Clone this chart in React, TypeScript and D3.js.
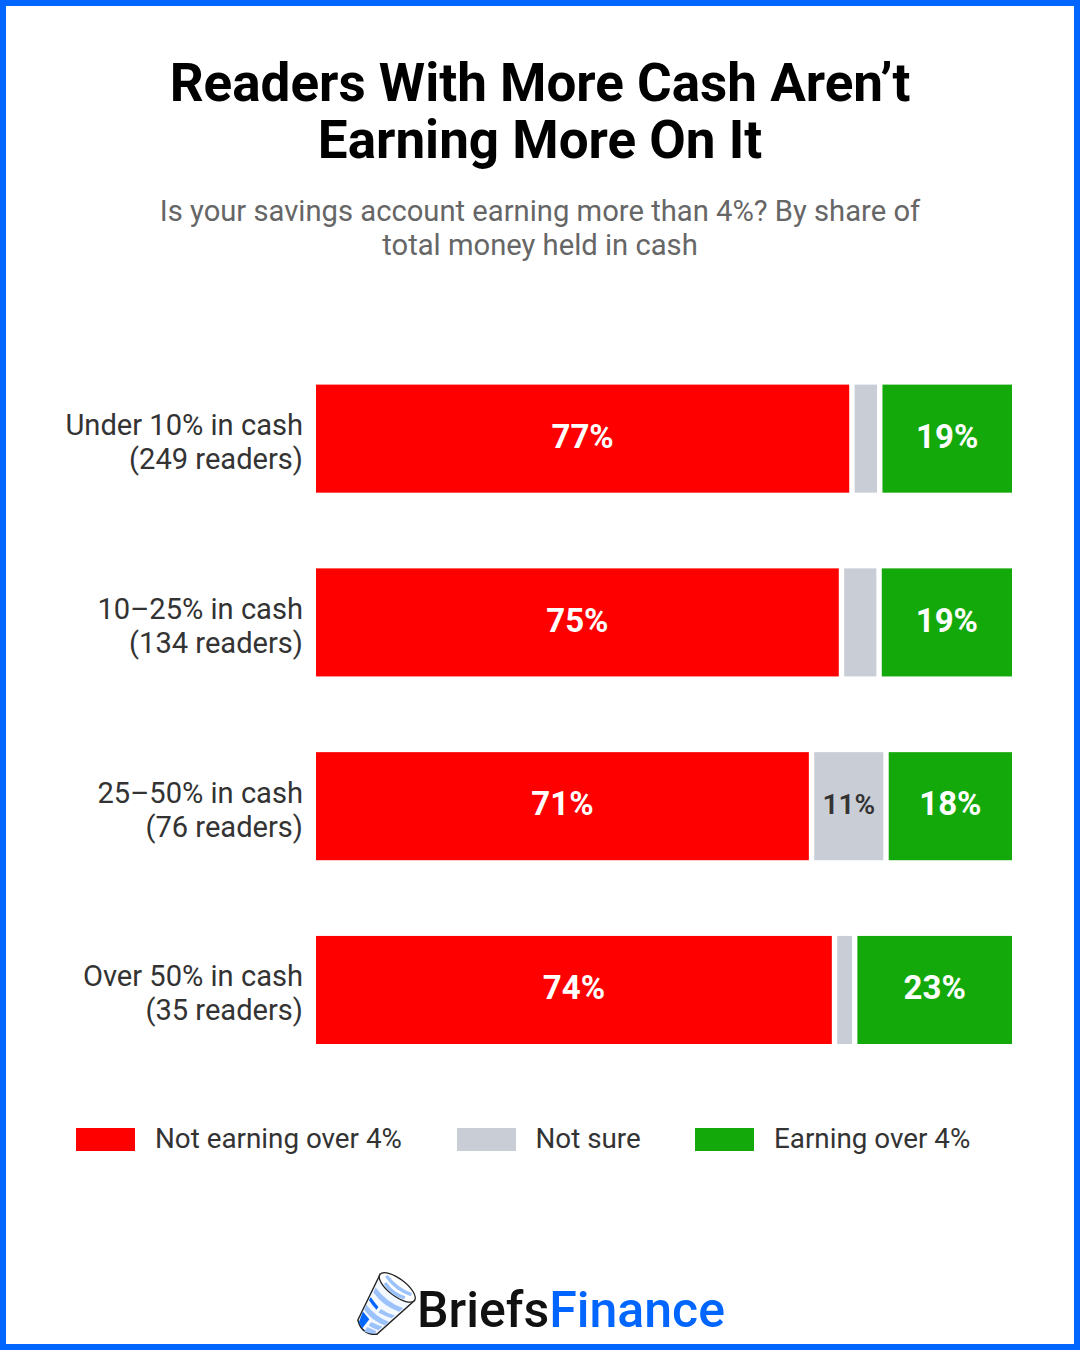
import React from 'react';
import * as d3 from 'd3';

const title = ['Readers With More Cash Aren’t', 'Earning More On It'];
const subtitle = ['Is your savings account earning more than 4%? By share of', 'total money held in cash'];

const categories = ['Under 10% in cash', '10–25% in cash', '25–50% in cash', 'Over 50% in cash'];
const readers = ['(249 readers)', '(134 readers)', '(76 readers)', '(35 readers)'];
const seriesNames = ['Not earning over 4%', 'Not sure', 'Earning over 4%'];
const notEarning = [77, 75.5, 71.2, 74.5];
const notSure = [4, 5.4, 10.7, 2.9];
const earning = [19, 19.1, 18.1, 22.6];
const shownNotEarning = ['77%', '75%', '71%', '74%'];
const shownNotSure = ['', '', '11%', ''];
const shownEarning = ['19%', '19%', '18%', '23%'];

const colors = ['#ff0000', '#c9cdd6', '#13a90a'];
const textColors = ['#ffffff', '#333333', '#ffffff'];
const blue = '#0066ff';
const lightBlue = '#9cc2fb';
const font = 'Roboto, sans-serif';
const gap = 2.7;

const rows = categories.map((c, i) => ({
  category: c,
  values: [notEarning[i], notSure[i], earning[i]],
  shown: [shownNotEarning[i], shownNotSure[i], shownEarning[i]],
}));

const x = d3.scaleLinear().domain([0, 100]).range([316, 1012]);
const y = d3.scaleBand<string>().domain(categories).range([384.6, 1044]).paddingInner(0.412);

function Segments({ row }: { row: (typeof rows)[number] }) {
  const starts = d3.cumsum([0, ...row.values]);
  const top = y(row.category) || 0;
  return (
    <g>
      {row.values.map((v, i) => {
        const x0 = x(starts[i]) + (i > 0 ? gap : 0);
        const x1 = x(starts[i] + v) - (i < 2 ? gap : 0);
        return (
          <g key={i}>
            <rect x={x0} y={top} width={x1 - x0} height={y.bandwidth()} fill={colors[i]} />
            {row.shown[i] && (
              <text
                x={(x0 + x1) / 2}
                y={top + y.bandwidth() / 2 + 0.5}
                textAnchor="middle"
                dominantBaseline="middle"
                fill={textColors[i]}
                fontSize={i === 1 ? 28 : 33}
                fontWeight={i === 1 ? 600 : 700}
              >
                {row.shown[i]}
              </text>
            )}
          </g>
        );
      })}
    </g>
  );
}

// the little glass of cash next to the wordmark
function Logo() {
  return (
    <g transform="translate(381 1309) rotate(37) scale(1.08)">
      <path
        d="M-20,-25 L-11,21 Q0,30 11,21 L20,-25 Z"
        fill="#f4f8ff"
        stroke="#222"
        strokeWidth={1.3}
      />
      <ellipse cx={0} cy={-25} rx={20} ry={8} fill="#fff" stroke="#222" strokeWidth={1.2} />
      <path d="M-14,-29 Q0,-25 14,-29 L15,-26 Q0,-21 -15,-26 Z" fill={lightBlue} />
      <path d="M-11,-23 Q0,-19 11,-23 L12,-20 Q0,-15 -12,-20 Z" fill={lightBlue} />
      <path d="M-16,-13 Q0,-8 16,-13 L15,-8 Q0,-3 -15,-8 Z" fill={lightBlue} />
      <path d="M-14,-3 Q-8,-1 -3,0 L-3,3 Q-9,2 -14,0 Z" fill={blue} />
      <path d="M0,0 Q7,0 14,-3 L13,1 Q7,3 0,4 Z" fill={lightBlue} />
      <path d="M-13,5 Q0,9 13,5 L12,10 Q0,14 -12,10 Z" fill={lightBlue} />
      <path d="M-12,12 L-3,14 L-3,25 L-9,22 Z" fill={blue} />
      <path d="M0,15 Q6,14 11,12 L10,17 Q5,19 0,19 Z" fill={lightBlue} />
      <path d="M0,21 L9,19 L9,22 Q5,25 0,26 Z" fill={lightBlue} />
    </g>
  );
}

export default function App() {
  const legendSwatches = [76, 457, 695];
  const legendLabels = [155, 535.5, 774];
  return (
    <svg
      width={1080}
      height={1350}
      viewBox="0 0 1080 1350"
      style={{ position: 'absolute', left: 0, top: 0, background: '#fff' }}
      fontFamily={font}
    >
      <rect x={3} y={3} width={1074} height={1344} fill="#fff" stroke={blue} strokeWidth={6} />

      {title.map((t, i) => (
        <text key={t} x={540} y={100.5 + i * 57.5} textAnchor="middle" fontSize={53} fontWeight={700} fill="#000">
          {t}
        </text>
      ))}
      {subtitle.map((t, i) => (
        <text key={t} x={540} y={221 + i * 34} textAnchor="middle" fontSize={29.2} fill="#666">
          {t}
        </text>
      ))}

      {rows.map((row, i) => {
        const mid = (y(row.category) || 0) + y.bandwidth() / 2;
        return (
          <g key={row.category}>
            <text x={303} y={mid - 3.5} textAnchor="end" fontSize={29.1} fill="#333">
              {row.category}
            </text>
            <text x={303} y={mid + 30.5} textAnchor="end" fontSize={29.1} fill="#333">
              {readers[i]}
            </text>
            <Segments row={row} />
          </g>
        );
      })}

      {seriesNames.map((name, i) => (
        <g key={name}>
          <rect x={legendSwatches[i]} y={1128} width={59} height={23} fill={colors[i]} />
          <text x={legendLabels[i]} y={1148} fontSize={27.8} fill="#333">
            {name}
          </text>
        </g>
      ))}

      <Logo />
      <text x={417} y={1327} fontSize={50} fontWeight={500} fill="#111">
        Briefs
        <tspan fill={blue}>Finance</tspan>
      </text>
    </svg>
  );
}
